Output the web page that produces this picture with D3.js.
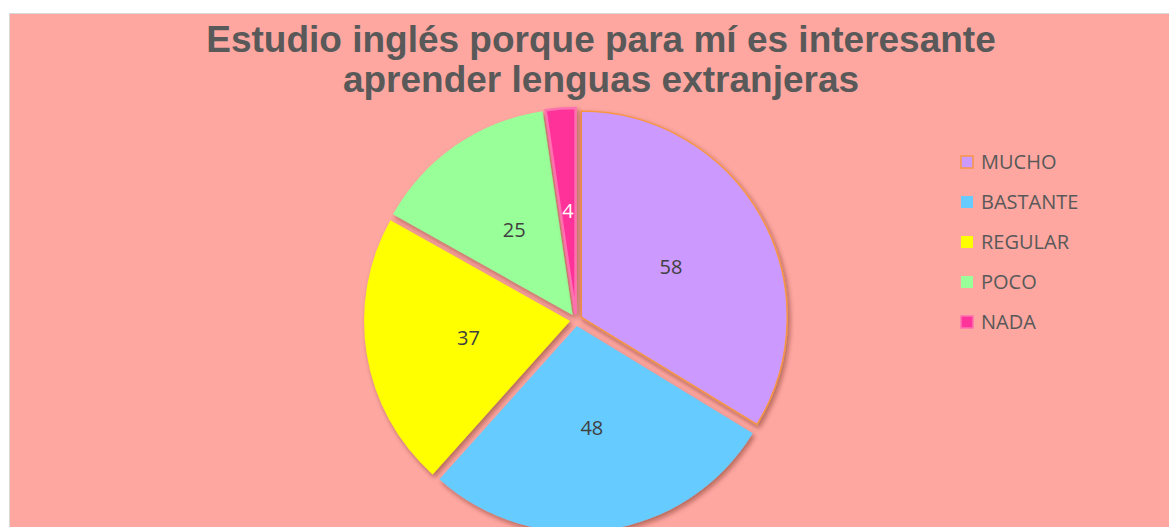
<!DOCTYPE html>
<html>
<head>
<meta charset="utf-8">
<script src="https://cdn.jsdelivr.net/npm/d3@7"></script>
<style>
  body { margin: 0; background: #fff; }
</style>
</head>
<body>
<div id="chart"></div>
<script>
// Data
var categories = ["MUCHO", "BASTANTE", "REGULAR", "POCO", "NADA"];
var values = [58, 48, 37, 25, 4];
var colors = ["#CC99FF", "#66CCFF", "#FFFF00", "#99FF99", "#FF3399"];
var borders = ["#F79646", "none", "none", "none", "#FF70B0"];
var labelColors = ["#404040", "#404040", "#404040", "#404040", "#ffffff"];
var titleLines = ["Estudio inglés porque para mí es interesante", "aprender lenguas extranjeras"];

var width = 1169,
	height = 527,
	cx = 576, cy = 320,
	radius = 206,
	explode = 6;

var svg = d3.select("#chart").append("svg")
	.attr("width", width)
	.attr("height", height);

var defs = svg.append("defs");
var shadow = defs.append("filter")
	.attr("id", "shadow")
	.attr("x", "-20%").attr("y", "-20%")
	.attr("width", "140%").attr("height", "140%");
shadow.append("feDropShadow")
	.attr("dx", 2).attr("dy", 3)
	.attr("stdDeviation", 2.5)
	.attr("flood-color", "#5a1a10")
	.attr("flood-opacity", 0.45);

// chart area
svg.append("rect")
	.attr("x", 9.5).attr("y", 13.5)
	.attr("width", width + 20).attr("height", height)
	.attr("fill", "#FDA7A0")
	.attr("stroke", "#d9d9d9")
	.attr("stroke-width", 1);

// title
svg.append("text")
	.attr("x", 601)
	.attr("y", 52)
	.attr("text-anchor", "middle")
	.attr("font-family", "'Liberation Sans', Arial, sans-serif")
	.attr("font-weight", "bold")
	.attr("font-size", 37)
	.attr("fill", "#595959")
  .selectAll("tspan")
	.data(titleLines)
  .enter().append("tspan")
	.attr("x", 601)
	.attr("dy", function(d, i) { return i ? 40 : 0; })
	.text(function(d) { return d; });

var pie = d3.pie().sort(null).value(function(d) { return d; });
var arc = d3.arc().innerRadius(0).outerRadius(radius);
var labelArc = d3.arc().innerRadius(radius / 2).outerRadius(radius / 2);

var arcs = pie(values);

function offset(d) {
	var a = (d.startAngle + d.endAngle) / 2;
	return [Math.sin(a) * explode, -Math.cos(a) * explode];
}

var slices = svg.append("g")
	.attr("transform", "translate(" + cx + "," + cy + ")")
  .selectAll("g")
	.data(arcs)
  .enter().append("g")
	.attr("transform", function(d) { return "translate(" + offset(d) + ")"; });

slices.append("path")
	.attr("d", arc)
	.attr("fill", function(d, i) { return colors[i]; })
	.attr("stroke", function(d, i) { return borders[i]; })
	.attr("stroke-width", function(d, i) { return i === 4 ? 2.5 : 1.5; })
	.attr("filter", "url(#shadow)");

slices.append("text")
	.attr("transform", function(d) { return "translate(" + labelArc.centroid(d) + ")"; })
	.attr("text-anchor", "middle")
	.attr("dy", "0.35em")
	.attr("font-family", "'Open Sans', sans-serif")
	.attr("font-size", 20)
	.attr("fill", function(d, i) { return labelColors[i]; })
	.text(function(d) { return d.data; });

// legend
var legend = svg.append("g")
	.attr("transform", "translate(960,162)")
  .selectAll("g")
	.data(categories)
  .enter().append("g")
	.attr("transform", function(d, i) { return "translate(0," + i * 40 + ")"; });

legend.append("rect")
	.attr("x", 1).attr("y", -6)
	.attr("width", 12).attr("height", 12)
	.attr("fill", function(d, i) { return colors[i]; })
	.attr("stroke", function(d, i) { return borders[i]; })
	.attr("stroke-width", 1.5);

legend.append("text")
	.attr("x", 21)
	.attr("dy", "0.35em")
	.attr("font-family", "'Open Sans', sans-serif")
	.attr("font-size", 20)
	.attr("fill", "#595959")
	.text(function(d) { return d; });
</script>
</body>
</html>
